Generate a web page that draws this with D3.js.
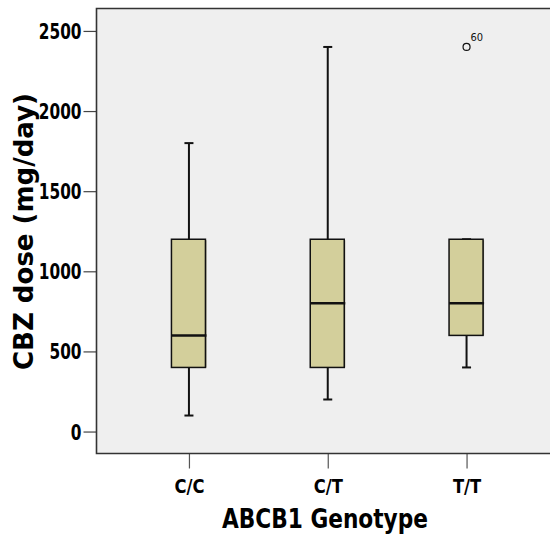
<!DOCTYPE html>
<html><head><meta charset="utf-8">
<script src="https://cdn.jsdelivr.net/npm/d3@7"></script>
<style>
html,body{margin:0;padding:0;background:#fff;}
svg text{font-family:"DejaVu Sans",sans-serif;}
</style></head>
<body>
<svg id="chart" width="550" height="539"></svg>
<script>
const categories = ["C/C", "C/T", "T/T"];
const whiskerLow = [100, 200, 400];
const q1 = [400, 400, 600];
const medians = [600, 800, 800];
const q3 = [1200, 1200, 1200];
const whiskerHigh = [1800, 2400, 1200];
const outlierCat = ["T/T"];
const outlierValues = [2400];
const outlierLabels = ["60"];
const yTicks = [0, 500, 1000, 1500, 2000, 2500];

const svg = d3.select("#chart");
const plotLeft = 96.5, plotTop = 8.5, plotBottom = 453.5, rightExt = 559;

const x = d3.scalePoint().domain(categories).range([plotLeft, rightExt]).padding(0.666);
const y = d3.scaleLinear().domain([-137, 2640]).range([plotBottom, plotTop]);

svg.append("rect").attr("x", plotLeft).attr("y", plotTop).attr("width", 550 - plotLeft).attr("height", plotBottom - plotTop)
  .attr("fill", "#efefef");

const boxW = 35, capW = 9;
const data = categories.map((c, i) => ({c, lo: whiskerLow[i], q1: q1[i], med: medians[i], q3: q3[i], hi: whiskerHigh[i]}));

const g = svg.append("g");
g.selectAll(".wh").data(data).join("line")
  .attr("x1", d => x(d.c)).attr("x2", d => x(d.c))
  .attr("y1", d => y(d.lo)).attr("y2", d => y(d.hi))
  .attr("stroke", "#111").attr("stroke-width", 2);
g.selectAll(".capLo").data(data).join("line")
  .attr("x1", d => x(d.c) - capW / 2).attr("x2", d => x(d.c) + capW / 2)
  .attr("y1", d => y(d.lo)).attr("y2", d => y(d.lo))
  .attr("stroke", "#111").attr("stroke-width", 2);
g.selectAll(".capHi").data(data).join("line")
  .attr("x1", d => x(d.c) - capW / 2).attr("x2", d => x(d.c) + capW / 2)
  .attr("y1", d => y(d.hi)).attr("y2", d => y(d.hi))
  .attr("stroke", "#111").attr("stroke-width", 2);
g.selectAll(".shadow").data(data).join("rect")
  .attr("x", d => x(d.c) + boxW / 2 - 2).attr("y", d => y(d.q3) + 1)
  .attr("width", 2).attr("height", d => y(d.q1) - y(d.q3) - 1)
  .attr("fill", "#8a876a");
g.selectAll(".box").data(data).join("rect")
  .attr("x", d => x(d.c) - boxW / 2).attr("y", d => y(d.q3))
  .attr("width", boxW - 1).attr("height", d => y(d.q1) - y(d.q3))
  .attr("fill", "#d3cf9b").attr("stroke", "#111").attr("stroke-width", 1.5);
g.selectAll(".med").data(data).join("line")
  .attr("x1", d => x(d.c) - boxW / 2).attr("x2", d => x(d.c) + boxW / 2)
  .attr("y1", d => y(d.med)).attr("y2", d => y(d.med))
  .attr("stroke", "#111").attr("stroke-width", 2.5);

svg.selectAll(".out").data(outlierValues).join("circle")
  .attr("cx", (d, i) => x(outlierCat[i])).attr("cy", d => y(d)).attr("r", 3.5)
  .attr("fill", "none").attr("stroke", "#111").attr("stroke-width", 1.2);
svg.selectAll(".outl").data(outlierValues).join("text")
  .attr("x", (d, i) => x(outlierCat[i]) + 4).attr("y", d => y(d) - 6)
  .attr("font-size", 11).attr("fill", "#111").style("font-family", "'DejaVu Sans Condensed', sans-serif")
  .text((d, i) => outlierLabels[i]);

function squeeze(sel, f) {
  sel.each(function() {
    const w = this.getComputedTextLength();
    d3.select(this).attr("textLength", w * f).attr("lengthAdjust", "spacingAndGlyphs");
  });
}

const yAxis = d3.axisLeft(y).tickValues(yTicks).tickSize(13).tickPadding(2).tickFormat(d3.format("d"));
const ya = svg.append("g").attr("transform", `translate(${plotLeft},0)`).call(yAxis);
ya.select(".domain").remove();
ya.selectAll(".tick line").attr("stroke", "#444").attr("stroke-width", 1.2);
const yt = ya.selectAll(".tick text").attr("font-size", 21).attr("font-weight", "bold").attr("fill", "#000")
  .attr("font-family", null).attr("dy", "0.36em");
squeeze(yt, 0.73);

const xAxis = d3.axisBottom(x).tickSize(15).tickPadding(11);
const xa = svg.append("g").attr("transform", `translate(0,${plotBottom})`).call(xAxis);
xa.select(".domain").remove();
xa.selectAll(".tick line").attr("stroke", "#555").attr("stroke-width", 1.2);
const xt = xa.selectAll(".tick text").attr("font-size", 19).attr("font-weight", "bold").attr("fill", "#000")
  .attr("font-family", null);
squeeze(xt, 0.86);

svg.append("path").attr("d", `M550,${plotTop}H${plotLeft}V${plotBottom}H550`).attr("fill", "none")
  .attr("stroke", "#333").attr("stroke-width", 1.6);

svg.append("text").attr("x", 325).attr("y", 528).attr("text-anchor", "middle")
  .attr("font-size", 27).attr("font-weight", "bold").attr("fill", "#000")
  .attr("textLength", 206).attr("lengthAdjust", "spacingAndGlyphs")
  .text("ABCB1 Genotype");
svg.append("text").attr("transform", "translate(33,231.5) rotate(-90)").attr("text-anchor", "middle")
  .attr("font-size", 27).attr("font-weight", "bold").attr("fill", "#000")
  .attr("textLength", 277).attr("lengthAdjust", "spacingAndGlyphs")
  .text("CBZ dose (mg/day)");
</script>
</body></html>
